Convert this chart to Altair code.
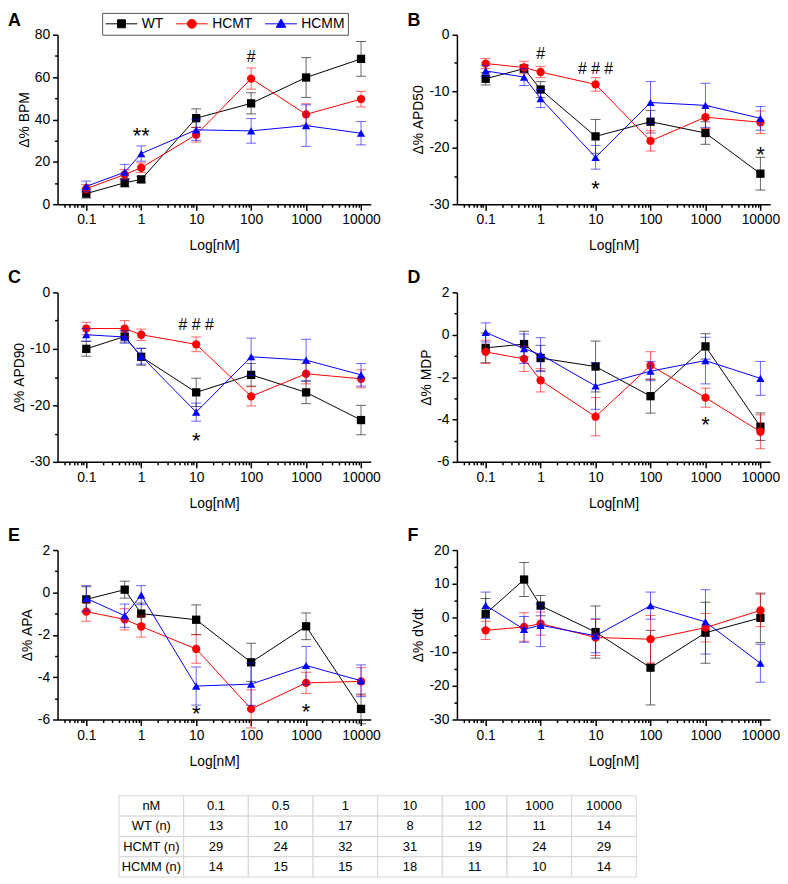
import altair as alt
import pandas as pd

FONT = "Liberation Sans, Arial, Helvetica, sans-serif"

# ---------------- data ----------------
conc = [0.1, 0.5, 1, 10, 100, 1000, 10000]
groups = ["WT", "HCMT", "HCMM"]
colors = ["#000000", "#ff0000", "#0000ff"]
shapes = ["square", "circle", "triangle-up"]

# A: delta % BPM
bpm_wt = [5.0, 10.1, 11.7, 40.6, 47.6, 59.8, 68.6]
bpm_wt_se = [2.1, 2.0, 1.5, 4.4, 5.0, 9.4, 8.2]
bpm_hcmt = [7.3, 14.0, 17.2, 32.8, 59.3, 42.4, 49.6]
bpm_hcmt_se = [2.0, 2.3, 2.3, 3.5, 5.0, 5.0, 3.7]
bpm_hcmm = [8.4, 15.1, 23.9, 35.1, 34.6, 37.1, 33.5]
bpm_hcmm_se = [2.5, 3.7, 3.6, 5.0, 5.8, 9.8, 5.5]

# B: delta % APD50
apd50_wt = [-7.8, -6.0, -9.7, -18.0, -15.4, -17.4, -24.6]
apd50_wt_se = [1.1, 0.6, 1.4, 3.0, 2.0, 2.0, 2.9]
apd50_hcmt = [-5.1, -5.8, -6.6, -8.8, -18.8, -14.6, -15.5]
apd50_hcmt_se = [0.9, 1.1, 1.0, 1.2, 1.8, 2.0, 2.0]
apd50_hcmm = [-6.4, -7.5, -11.3, -21.7, -12.0, -12.5, -14.8]
apd50_hcmm_se = [1.0, 1.5, 1.6, 2.1, 3.7, 3.9, 2.1]

# C: delta % APD90
apd90_wt = [-10.0, -7.8, -11.4, -17.7, -14.6, -17.7, -22.6]
apd90_wt_se = [1.3, 1.0, 1.5, 2.5, 2.0, 2.0, 2.6]
apd90_hcmt = [-6.4, -6.4, -7.5, -9.2, -18.4, -14.4, -15.3]
apd90_hcmt_se = [1.1, 1.4, 1.0, 1.3, 1.7, 1.8, 1.6]
apd90_hcmm = [-7.5, -7.9, -11.3, -21.2, -11.4, -12.0, -14.6]
apd90_hcmm_se = [1.1, 1.1, 1.4, 1.6, 3.3, 3.7, 2.0]

# D: delta % MDP
mdp_wt = [-0.62, -0.44, -1.1, -1.5, -2.9, -0.55, -4.34]
mdp_wt_se = [0.7, 0.6, 0.6, 1.2, 0.8, 0.6, 0.65]
mdp_hcmt = [-0.81, -1.14, -2.15, -3.87, -1.45, -2.97, -4.58]
mdp_hcmt_se = [0.55, 0.6, 0.55, 0.9, 0.65, 0.45, 0.8]
mdp_hcmm = [0.11, -0.66, -0.94, -2.42, -1.72, -1.22, -2.06]
mdp_hcmm_se = [0.45, 0.7, 0.8, 1.1, 0.45, 1.1, 0.8]

# E: delta % APA
apa_wt = [-0.33, 0.13, -1.0, -1.29, -3.3, -1.6, -5.5]
apa_wt_se = [0.6, 0.4, 0.5, 0.7, 0.9, 0.63, 0.7]
apa_hcmt = [-0.91, -1.27, -1.61, -2.67, -5.5, -4.27, -4.2]
apa_hcmt_se = [0.45, 0.5, 0.5, 0.67, 0.9, 0.5, 0.65]
apa_hcmm = [-0.28, -1.1, -0.13, -4.42, -4.33, -3.45, -4.17]
apa_hcmm_se = [0.6, 0.55, 0.45, 0.9, 1.0, 0.9, 0.75]

# F: delta % dV/dt
dvdt_wt = [1.2, 11.3, 3.6, -4.2, -14.7, -4.4, 0.0]
dvdt_wt_se = [4.5, 5.0, 3.0, 7.7, 11.0, 9.0, 7.3]
dvdt_hcmt = [-3.7, -2.7, -1.7, -5.8, -6.3, -2.9, 2.2]
dvdt_hcmt_se = [2.7, 4.2, 3.4, 5.3, 7.0, 4.2, 4.8]
dvdt_hcmm = [3.7, -3.4, -2.2, -5.3, 3.6, -1.2, -13.4]
dvdt_hcmm_se = [3.9, 3.8, 6.3, 5.0, 4.0, 9.5, 5.6]

# significance marks: (text, concentration, y)
notes_a = [("**", 1, 35.0), ("#", 100, 69.5)]
notes_b = [("#", 1, -3.5), ("# # #", 10, -6.0), ("*", 10, -26.3), ("*", 10000, -20.3)]
notes_c = [("# # #", 10, -5.8), ("*", 10, -25.2)]
notes_d = [("*", 1000, -4.0)]
notes_e = [("*", 10, -5.45), ("*", 1000, -5.35)]
notes_f = []

# table
table_header = ["nM", "0.1", "0.5", "1", "10", "100", "1000", "10000"]
n_wt = [13, 10, 17, 8, 12, 11, 14]
n_hcmt = [29, 24, 32, 31, 19, 24, 29]
n_hcmm = [14, 15, 15, 18, 11, 10, 14]
row_labels = ["WT (n)", "HCMT (n)", "HCMM (n)"]

# ---------------- chart ----------------
PW, PH = 316, 171
xscale = alt.Scale(type="log", domain=[0.03, 15000], nice=False)
major_x = [0.1, 1, 10, 100, 1000, 10000]
minor_x = [m * 10 ** e for e in range(-2, 5) for m in range(2, 10)
           if 0.035 < m * 10 ** e < 15000]

legend_paths = [
    "M-1,0H1M-0.25,-0.25H0.25V0.25H-0.25Z",
    "M-1,0H1M0.28,0A0.28,0.28,0,1,1,-0.28,0A0.28,0.28,0,1,1,0.28,0Z",
    "M-1,0H1M0,-0.3L0.3,0.22H-0.3Z",
]
LABEL_EXPR = "'' + datum.value"


def make_panel(letter, ylabel, ydomain, ymajor, yminor, series, notes, legend=False):
    rows = []
    for g, (m, se) in zip(groups, series):
        for c, v, e in zip(conc, m, se):
            rows.append({"conc": c, "group": g, "mean": v, "lo": v - e, "hi": v + e})
    df = pd.DataFrame(rows)
    ys = alt.Scale(domain=ydomain, nice=False, zero=False)

    def X(axis=None):
        return alt.X("conc:Q", scale=xscale, axis=axis)

    axis_minor = alt.Chart(df).mark_point(opacity=0).encode(
        x=X(alt.Axis(values=minor_x, labels=False, tickSize=3, domain=False,
                     title=None, orient="bottom", grid=False)),
        y=alt.Y("mean:Q", scale=ys,
                axis=alt.Axis(values=yminor, labels=False, tickSize=3, domain=False,
                              title=None, orient="left", grid=False)),
    )
    axis_major = alt.Chart(df).mark_point(opacity=0).encode(
        x=X(alt.Axis(values=major_x, labelExpr=LABEL_EXPR, title="Log[nM]",
                     orient="bottom", tickSize=6, labelPadding=3, titlePadding=12,
                     grid=False, labelFlush=False, labelOverlap=False)),
        y=alt.Y("mean:Q", scale=ys,
                axis=alt.Axis(values=ymajor, labelExpr=LABEL_EXPR, title=ylabel,
                              orient="left", tickSize=5, labelPadding=3, titlePadding=3,
                              grid=False, labelFlush=False, labelOverlap=False)),
    )
    layers = [axis_minor, axis_major]
    for g, col, shp in zip(groups, colors, shapes):
        sub = df[df["group"] == g]
        base = alt.Chart(sub)
        layers.append(base.mark_rule(color=col, strokeWidth=1, opacity=0.6).encode(
            x=X(), y=alt.Y("lo:Q", scale=ys, axis=None), y2="hi:Q"))
        layers.append(base.transform_fold(["lo", "hi"], as_=["end", "val"]).mark_tick(
            orient="horizontal", color=col, size=10, thickness=1, opacity=0.6).encode(
            x=X(), y=alt.Y("val:Q", scale=ys, axis=None)))
        layers.append(base.mark_line(color=col, strokeWidth=1).encode(
            x=X(), y=alt.Y("mean:Q", scale=ys, axis=None)))
        layers.append(base.mark_point(shape=shp, filled=True, size=70, color=col,
                                      opacity=1).encode(
            x=X(), y=alt.Y("mean:Q", scale=ys, axis=None)))
    if notes:
        ndf = pd.DataFrame(notes, columns=["t", "x", "y"])
        stars = ndf[ndf["t"].str.contains(r"\*")]
        hashes = ndf[~ndf["t"].str.contains(r"\*")]
        if len(stars):
            layers.append(alt.Chart(stars).mark_text(font=FONT, fontSize=22, dy=6,
                                                     color="black").encode(
                x=alt.X("x:Q", scale=xscale, axis=None),
                y=alt.Y("y:Q", scale=ys, axis=None), text="t:N"))
        if len(hashes):
            layers.append(alt.Chart(hashes).mark_text(font=FONT, fontSize=16,
                                                      color="black").encode(
                x=alt.X("x:Q", scale=xscale, axis=None),
                y=alt.Y("y:Q", scale=ys, axis=None), text="t:N"))
    if legend:
        ldf = pd.DataFrame({"group": groups})
        layers.append(alt.Chart(ldf).transform_filter("false").mark_point(
            size=1024, opacity=1).encode(
            fill=alt.Fill("group:N", scale=alt.Scale(domain=groups, range=colors),
                          legend=alt.Legend(
                              title=None, orient="none", legendX=45, legendY=-22,
                              offset=0,
                              direction="horizontal", columns=3, symbolSize=1024,
                              symbolStrokeWidth=1, clipHeight=16, labelFont=FONT,
                              labelFontSize=14, labelColor="black", labelOffset=4,
                              columnPadding=12, padding=3, strokeColor="#555555",
                              fillColor="white")),
            stroke=alt.Stroke("group:N", scale=alt.Scale(domain=groups, range=colors)),
            shape=alt.Shape("group:N", scale=alt.Scale(domain=groups, range=legend_paths)),
        ))
    return alt.layer(*layers).resolve_axis(x="independent", y="independent").properties(
        width=PW, height=PH,
        title=alt.TitleParams(letter, anchor="start", frame="group", dx=-50,
                              offset=-2, fontSize=18, fontWeight="bold", font=FONT,
                              color="black"))


pA = make_panel("A", "Δ% BPM", [0, 80], [0, 20, 40, 60, 80], [10, 30, 50, 70],
                [(bpm_wt, bpm_wt_se), (bpm_hcmt, bpm_hcmt_se), (bpm_hcmm, bpm_hcmm_se)],
                notes_a, legend=True)
pB = make_panel("B", "Δ% APD50", [-30, 0], [0, -10, -20, -30], [-5, -15, -25],
                [(apd50_wt, apd50_wt_se), (apd50_hcmt, apd50_hcmt_se),
                 (apd50_hcmm, apd50_hcmm_se)], notes_b)
pC = make_panel("C", "Δ% APD90", [-30, 0], [0, -10, -20, -30], [-5, -15, -25],
                [(apd90_wt, apd90_wt_se), (apd90_hcmt, apd90_hcmt_se),
                 (apd90_hcmm, apd90_hcmm_se)], notes_c)
pD = make_panel("D", "Δ% MDP", [-6, 2], [2, 0, -2, -4, -6], [1, -1, -3, -5],
                [(mdp_wt, mdp_wt_se), (mdp_hcmt, mdp_hcmt_se), (mdp_hcmm, mdp_hcmm_se)],
                notes_d)
pE = make_panel("E", "Δ% APA", [-6, 2], [2, 0, -2, -4, -6], [1, -1, -3, -5],
                [(apa_wt, apa_wt_se), (apa_hcmt, apa_hcmt_se), (apa_hcmm, apa_hcmm_se)],
                notes_e)
pF = make_panel("F", "Δ% dVdt", [-30, 20], [20, 10, 0, -10, -20, -30],
                [15, 5, -5, -15, -25],
                [(dvdt_wt, dvdt_wt_se), (dvdt_hcmt, dvdt_hcmt_se),
                 (dvdt_hcmm, dvdt_hcmm_se)], notes_f)

# table
cells = []
for ci, h in enumerate(table_header):
    cells.append({"row": 0, "col": ci, "text": h})
for ri, (lab, vals) in enumerate(zip(row_labels, [n_wt, n_hcmt, n_hcmm]), start=1):
    cells.append({"row": ri, "col": 0, "text": lab})
    for ci, v in enumerate(vals, start=1):
        cells.append({"row": ri, "col": ci, "text": str(v)})
tdf = pd.DataFrame(cells)
TW = 640
tx = alt.X("col:O", axis=None,
           scale=alt.Scale(paddingInner=0, paddingOuter=0, range=[62, 584]))
ty = alt.Y("row:O", axis=None, scale=alt.Scale(paddingInner=0, paddingOuter=0))
t_rect = alt.Chart(tdf).mark_rect(fill="white", stroke="#d4d4d4", strokeWidth=1).encode(
    x=tx, y=ty)
t_text = alt.Chart(tdf).mark_text(font=FONT, fontSize=13, color="black").encode(
    x=tx, y=ty, text="text:N")
table = alt.layer(t_rect, t_text).properties(width=TW, height=82)

grid = alt.concat(pA, pB, pC, pD, pE, pF, columns=2, spacing={"row": 89, "column": 87},
                  bounds="flush")

chart = alt.vconcat(grid, table, spacing=27).properties(
    padding={"left": 0, "top": 0, "right": 0, "bottom": 0}
).configure_view(stroke=None).configure_axis(
    domainColor="black", domainWidth=1.5, tickColor="black", tickWidth=1.5,
    labelFont=FONT, labelFontSize=14, labelColor="black",
    titleFont=FONT, titleFontSize=14, titleFontWeight="normal", titleColor="black",
    grid=False,
)

chart.save("out.html", embed_options={"renderer": "svg", "actions": False})
